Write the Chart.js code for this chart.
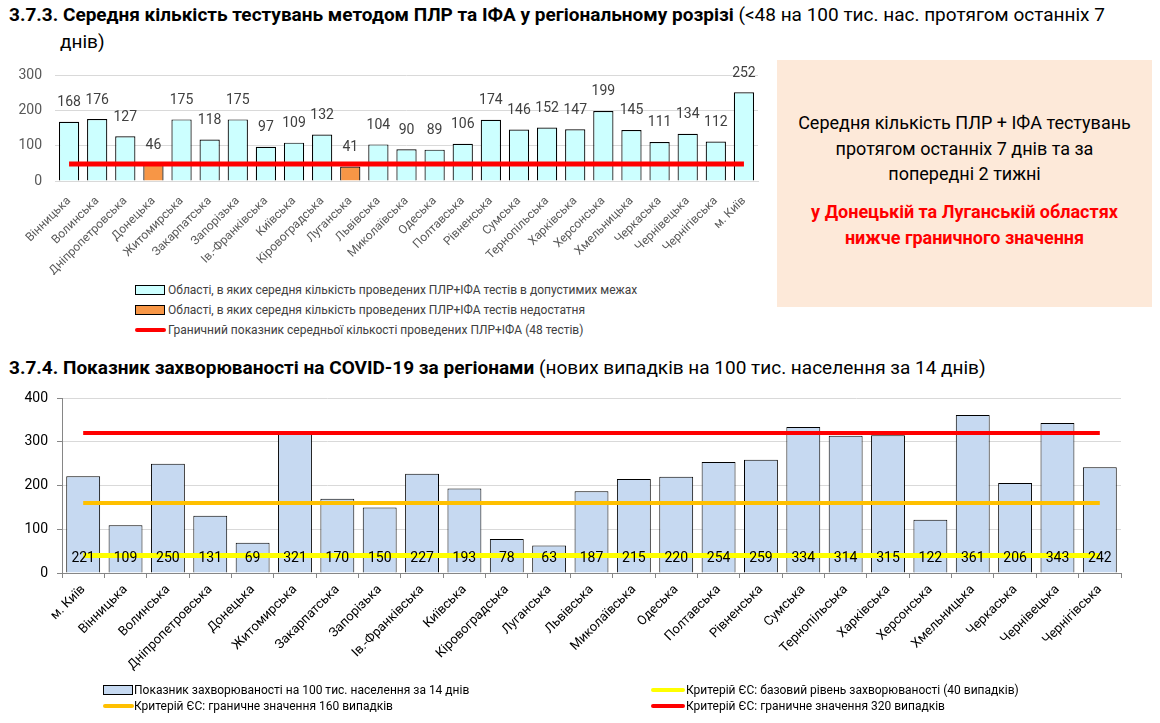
<!DOCTYPE html>
<html lang="uk">
<head>
<meta charset="utf-8">
<title>Тестування та захворюваність за регіонами</title>
<script src="https://cdn.jsdelivr.net/npm/chart.js@4.4.0/dist/chart.umd.min.js"></script>
<style>
  body { margin: 0; width: 1160px; height: 723px; background: #fff; position: relative; overflow: hidden;
         font-family: Roboto, "Open Sans", sans-serif; }
  .title { position: absolute; left: 9px; font-size: 19px; line-height: 27px; color: #000; white-space: nowrap; }
  .title b { font-weight: 700; }
  .box { position: absolute; left: 777px; top: 60px; width: 375px; height: 247px; background: #fde9d9;
         text-align: center; font-size: 18px; }
  .box .black { position: absolute; left: 0; width: 100%; top: 50px; line-height: 25.5px; color: #000; }
  .box .red { position: absolute; left: 0; width: 100%; top: 139px; line-height: 25.5px; color: #ff0000; font-weight: 700; }
  .chart { position: absolute; left: 0; }
  .leg { position: absolute; font-size: 12px; color: #404040; white-space: nowrap; line-height: 14px; }
  .leg .sw { position: absolute; left: 0; top: 2px; width: 28px; height: 8px; border: 1.5px solid #000; }
  .leg .ln { position: absolute; left: 0; top: 5px; width: 31px; height: 4px; border-radius: 2px; }
  .leg span.t { position: absolute; white-space: nowrap; }
</style>
</head>
<body>

<div class="title" style="top:1px"><b>3.7.3. Середня кількість тестувань методом ПЛР та ІФА у регіональному розрізі</b> (&lt;48 на 100 тис. нас. протягом останніх 7</div>
<div class="title" style="top:28px; left:60px">днів)</div>

<div class="chart" style="top:54px"><canvas id="chart1" width="770" height="221"></canvas></div>

<div class="box">
  <div class="black">Середня кількість ПЛР + ІФА тестувань<br>протягом останніх 7 днів та за<br>попередні 2 тижні</div>
  <div class="red">у Донецькій та Луганській областях<br>нижче граничного значення</div>
</div>

<div class="leg" style="left:135px; top:283px"><div class="sw" style="background:#ccffff"></div><span class="t" style="left:33px">Області, в яких середня кількість проведених ПЛР+ІФА тестів в допустимих межах</span></div>
<div class="leg" style="left:135px; top:303px"><div class="sw" style="background:#f79646"></div><span class="t" style="left:33px">Області, в яких середня кількість проведених ПЛР+ІФА тестів недостатня</span></div>
<div class="leg" style="left:135px; top:323px"><div class="ln" style="background:#ff0000"></div><span class="t" style="left:33px">Граничний показник середньої кількості проведених ПЛР+ІФА (48 тестів)</span></div>

<div class="title" style="top:354px"><b>3.7.4. Показник захворюваності на COVID-19 за регіонами</b> (нових випадків на 100 тис. населення за 14 днів)</div>

<div class="chart" style="top:380px"><canvas id="chart2" width="1160" height="305"></canvas></div>

<div class="leg" style="left:103px; top:683px; color:#000"><div class="sw" style="background:#c6d9f1"></div><span class="t" style="left:31px">Показник захворюваності на 100 тис. населення за 14 днів</span></div>
<div class="leg" style="left:103px; top:699px; color:#000"><div class="ln" style="background:#ffc000"></div><span class="t" style="left:31px">Критерій ЄС: граничне значення 160 випадків</span></div>
<div class="leg" style="left:651px; top:683px; color:#000"><div class="ln" style="background:#ffff00; width:34px"></div><span class="t" style="left:35px">Критерій ЄС: базовий рівень захворюваності (40 випадків)</span></div>
<div class="leg" style="left:651px; top:699px; color:#000"><div class="ln" style="background:#ff0000; width:34px"></div><span class="t" style="left:35px">Критерій ЄС: граничне значення 320 випадків</span></div>

<script>
// --- 3.7.3: average PCR + IFA tests per region ---
const regions1 = ['Вінницька', 'Волинська', 'Дніпропетровська', 'Донецька', 'Житомирська', 'Закарпатська',
  'Запорізька', 'Ів.-Франківська', 'Київська', 'Кіровоградська', 'Луганська', 'Львівська', 'Миколаївська',
  'Одеська', 'Полтавська', 'Рівненська', 'Сумська', 'Тернопільська', 'Харківська', 'Херсонська',
  'Хмельницька', 'Черкаська', 'Чернівецька', 'Чернігівська', 'м. Київ'];
// regions within the allowed range
const testsOk = [168, 176, 127, null, 175, 118, 175, 97, 109, 132, null, 104, 90, 89, 106, 174, 146, 152, 147, 199, 145, 111, 134, 112, 252];
// regions below the threshold (Донецька, Луганська)
const testsLow = [null, null, null, 46, null, null, null, null, null, null, 41, null, null, null, null, null, null, null, null, null, null, null, null, null, null];
const testsLimit = [48, 48, 48, 48, 48, 48, 48, 48, 48, 48, 48, 48, 48, 48, 48, 48, 48, 48, 48, 48, 48, 48, 48, 48, 48];
const ticks1 = [0, 100, 200, 300];

// --- 3.7.4: COVID-19 incidence per 100k over 14 days ---
const regions2 = ['м. Київ', 'Вінницька', 'Волинська', 'Дніпропетровська', 'Донецька', 'Житомирська',
  'Закарпатська', 'Запорізька', 'Ів.-Франківська', 'Київська', 'Кіровоградська', 'Луганська', 'Львівська',
  'Миколаївська', 'Одеська', 'Полтавська', 'Рівненська', 'Сумська', 'Тернопільська', 'Харківська',
  'Херсонська', 'Хмельницька', 'Черкаська', 'Чернівецька', 'Чернігівська'];
const incidence = [221, 109, 250, 131, 69, 321, 170, 150, 227, 193, 78, 63, 187, 215, 220, 254, 259, 334, 314, 315, 122, 361, 206, 343, 242];
const euBase = [40, 40, 40, 40, 40, 40, 40, 40, 40, 40, 40, 40, 40, 40, 40, 40, 40, 40, 40, 40, 40, 40, 40, 40, 40];
const eu160 = [160, 160, 160, 160, 160, 160, 160, 160, 160, 160, 160, 160, 160, 160, 160, 160, 160, 160, 160, 160, 160, 160, 160, 160, 160];
const eu320 = [320, 320, 320, 320, 320, 320, 320, 320, 320, 320, 320, 320, 320, 320, 320, 320, 320, 320, 320, 320, 320, 320, 320, 320, 320];
const ticks2 = [0, 100, 200, 300, 400];

const FONT = 'Roboto, "Open Sans", sans-serif';

// small plugin to write the bar values (no datalabels plugin available offline)
const valueLabels = {
  id: 'valueLabels',
  afterDatasetsDraw(chart, args, opts) {
    const ctx = chart.ctx;
    ctx.save();
    ctx.font = opts.size + 'px ' + FONT;
    ctx.fillStyle = opts.color;
    ctx.textAlign = 'center';
    ctx.textBaseline = 'middle';
    chart.data.datasets.forEach((ds, i) => {
      if (ds.type === 'line') return;
      chart.getDatasetMeta(i).data.forEach((bar, j) => {
        const v = ds.data[j];
        if (v == null) return;
        const y = opts.atBase ? bar.base - opts.offset : bar.y - opts.offset;
        ctx.fillText(String(v), bar.x, y);
      });
    });
    ctx.restore();
  }
};

new Chart(document.getElementById('chart1'), {
  type: 'bar',
  data: {
    labels: regions1,
    datasets: [
      { label: 'Граничний показник', type: 'line', data: testsLimit, borderColor: '#ff0000', borderWidth: 5,
        pointRadius: 0, order: 0 },
      { label: 'В допустимих межах', data: testsOk, backgroundColor: '#ccffff', borderColor: '#000',
        borderWidth: 1.2, grouped: false, barPercentage: 0.72, categoryPercentage: 1, order: 1 },
      { label: 'Недостатня', data: testsLow, backgroundColor: '#f79646', borderColor: '#000',
        borderWidth: 1.2, grouped: false, barPercentage: 0.72, categoryPercentage: 1, order: 1 }
    ]
  },
  options: {
    responsive: false,
    animation: false,
    layout: { padding: { top: 0, right: 12, left: 0, bottom: 0 } },
    plugins: {
      legend: { display: false },
      tooltip: { enabled: false },
      valueLabels: { size: 14, color: '#404040', offset: 19 }
    },
    scales: {
      x: {
        afterFit: s => { s.height = 94; },
        grid: { display: false },
        border: { color: '#d9d9d9' },
        ticks: { minRotation: 45, maxRotation: 45, autoSkip: false, padding: 5, color: '#595959',
                 font: { family: FONT, size: 12 } }
      },
      y: {
        min: 0, max: 300,
        afterFit: s => { s.width = 55; },
        afterBuildTicks: s => { s.ticks = ticks1.map(v => ({ value: v })); },
        grid: { color: '#d9d9d9', drawTicks: false },
        border: { display: false },
        ticks: { padding: 13, color: '#595959', font: { family: FONT, size: 14 } }
      }
    }
  },
  plugins: [valueLabels]
});

new Chart(document.getElementById('chart2'), {
  type: 'bar',
  data: {
    labels: regions2,
    datasets: [
      { label: 'Критерій ЄС: граничне значення 320 випадків', type: 'line', data: eu320, borderColor: '#ff0000',
        borderWidth: 4, pointRadius: 0, order: 0 },
      { label: 'Критерій ЄС: граничне значення 160 випадків', type: 'line', data: eu160, borderColor: '#ffc000',
        borderWidth: 4, pointRadius: 0, order: 0 },
      { label: 'Критерій ЄС: базовий рівень захворюваності (40 випадків)', type: 'line', data: euBase,
        borderColor: '#ffff00', borderWidth: 5, pointRadius: 0, order: 0 },
      { label: 'Показник захворюваності на 100 тис. населення за 14 днів', data: incidence,
        backgroundColor: '#c6d9f1', borderColor: '#000', borderWidth: 1, barPercentage: 0.8,
        categoryPercentage: 1, order: 1 }
    ]
  },
  options: {
    responsive: false,
    animation: false,
    layout: { padding: { top: 18, right: 39, left: 0, bottom: 0 } },
    plugins: {
      legend: { display: false },
      tooltip: { enabled: false },
      valueLabels: { size: 14, color: '#000', offset: 14, atBase: true }
    },
    scales: {
      x: {
        afterFit: s => { s.height = 112; },
        grid: { drawOnChartArea: false, tickLength: 5, tickColor: '#868686', offset: true },
        border: { color: '#868686' },
        ticks: { minRotation: 45, maxRotation: 45, autoSkip: false, padding: 4, color: '#000',
                 font: { family: FONT, size: 13 } }
      },
      y: {
        min: 0, max: 400,
        afterFit: s => { s.width = 62; },
        afterBuildTicks: s => { s.ticks = ticks2.map(v => ({ value: v })); },
        grid: { color: '#d9d9d9', tickLength: 5, tickColor: '#868686' },
        border: { color: '#868686' },
        ticks: { padding: 9, color: '#000', font: { family: FONT, size: 14 } }
      }
    }
  },
  plugins: [valueLabels]
});
</script>
</body>
</html>
